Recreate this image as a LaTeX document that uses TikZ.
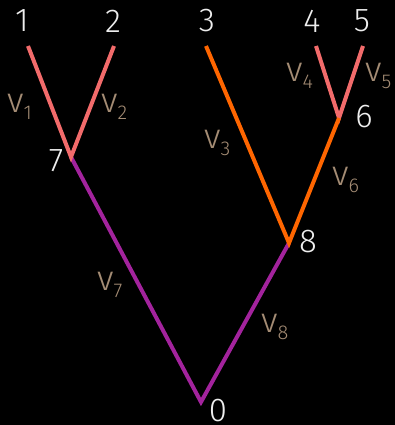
\documentclass[tikz,border=0pt]{standalone}
\usepackage{fontspec}
\setmainfont{Fira Sans Light}
\definecolor{edgepink}{HTML}{F26B6B}
\definecolor{edgeorange}{HTML}{FF6600}
\definecolor{edgepurple}{HTML}{A3239D}
\definecolor{labtan}{HTML}{A48C74}
\definecolor{vertink}{HTML}{EEEEEE}
\newcommand{\vsub}[1]{v\raisebox{-7pt}{\fontsize{20}{20}\selectfont #1}}
\tikzset{
  tree/.style={x=1pt, y=-1pt, line join=miter},
  branch/.style={draw=#1, line width=4pt},
  vert/.style={font=\fontsize{33}{33}\selectfont, text=vertink, inner sep=0pt},
  wlab/.style={font=\fontsize{35}{35}\selectfont, text=labtan, inner sep=0pt, anchor=base west},
}
\begin{document}
\begin{tikzpicture}[tree]
  \fill[black] (0,0) rectangle (395,425);
  \useasboundingbox (0,0) rectangle (395,425);

  % tree vertices
  \coordinate (n1) at (28,46);
  \coordinate (n2) at (114,46);
  \coordinate (n3) at (206,46);
  \coordinate (n4) at (316,46);
  \coordinate (n5) at (363,46);
  \coordinate (n6) at (339,118);
  \coordinate (n7) at (71,157);
  \coordinate (n8) at (289,243);
  \coordinate (n0) at (201,402);

  \draw[branch=edgepurple] (n7) -- (n0) -- (n8);
  \draw[branch=edgepink] (n1) -- (n7) -- (n2);
  \draw[branch=edgepink] (n4) -- (n6) -- (n5);
  \draw[branch=edgeorange] (n3) -- (n8) -- (n6);

  \node[vert] (t1) at (22,21) {1};
  \node[vert] (t2) at (113,21) {2};
  \node[vert] (t3) at (207,21) {3};
  \node[vert] (t4) at (312,21) {4};
  \node[vert] (t5) at (362,21) {5};
  \node[vert] (t6) at (364,117) {6};
  \node[vert] (t7) at (56,161) {7};
  \node[vert] (t8) at (308,242) {8};
  \node[vert] (t0) at (218,411) {0};

  % branch weights
  \node[wlab] (w1) at (7,112) {\vsub{1}};
  \node[wlab] (w2) at (101,112) {\vsub{2}};
  \node[wlab] (w3) at (204,148) {\vsub{3}};
  \node[wlab] (w4) at (286,82) {\vsub{4}};
  \node[wlab] (w5) at (365,82) {\vsub{5}};
  \node[wlab] (w6) at (332,185) {\vsub{6}};
  \node[wlab] (w7) at (97,290) {\vsub{7}};
  \node[wlab] (w8) at (261,332) {\vsub{8}};
\end{tikzpicture}
\end{document}
